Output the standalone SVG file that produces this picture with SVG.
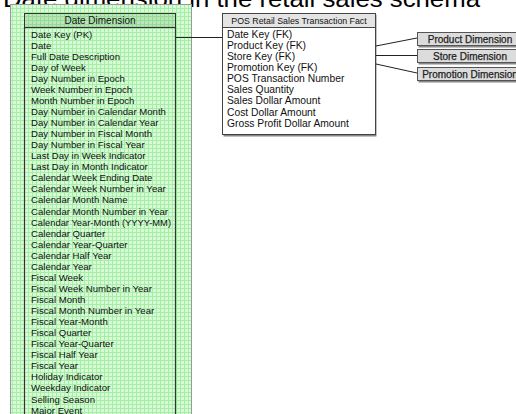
<svg xmlns="http://www.w3.org/2000/svg" width="516" height="414" viewBox="0 0 516 414">
<defs>
<pattern id="grid" x="0" y="0" width="4" height="4" patternUnits="userSpaceOnUse">
<rect width="4" height="4" fill="#d6fbd6"/>
<path d="M0 0.5H4M0.5 0V4" stroke="#a6eda6" stroke-width="1"/>
</pattern>
<pattern id="gridDark" x="0" y="0" width="4" height="4" patternUnits="userSpaceOnUse">
<rect width="4" height="4" fill="#b8e8b8"/>
<path d="M0 0.5H4M0.5 0V4" stroke="#98d898" stroke-width="1"/>
</pattern>
</defs>
<style>
.t{font-family:"Liberation Sans",Arial,sans-serif;font-size:9.6px;fill:#111}
.f{font-family:"Liberation Sans",Arial,sans-serif;font-size:10.3px;fill:#111}
.h{font-family:"Liberation Sans",Arial,sans-serif;font-size:8.8px;fill:#111;text-anchor:middle}
.d{font-family:"Liberation Sans",Arial,sans-serif;font-size:10px;fill:#222;text-anchor:middle;stroke:#222;stroke-width:0.25}
.box{fill:#fff;stroke:#444;stroke-width:1}
.dim{fill:#dcdcdc;stroke:#555;stroke-width:1}
.ln{stroke:#222;stroke-width:1;fill:none}
</style>
<rect width="516" height="414" fill="#fff"/>
<text x="3" y="7" font-family="Liberation Sans,Arial,sans-serif" font-size="24" fill="#000" textLength="477" lengthAdjust="spacingAndGlyphs">Date dimension in the retail sales schema</text>

<g id="date-dimension">
<rect x="10.5" y="4.5" width="181" height="420" fill="url(#grid)" stroke="#999" stroke-width="1"/>
<rect x="24.5" y="13.5" width="151" height="14" fill="url(#gridDark)" stroke="#333" stroke-width="1"/>
<rect x="24.5" y="27.5" width="151" height="400" fill="none" stroke="#333" stroke-width="1.2"/>
<text class="h" x="100" y="24" style="font-size:10px">Date Dimension</text>
<text class="t" x="31" y="37.5">Date Key (PK)</text>
<text class="t" x="31" y="48.6">Date</text>
<text class="t" x="31" y="59.6">Full Date Description</text>
<text class="t" x="31" y="70.7">Day of Week</text>
<text class="t" x="31" y="81.7">Day Number in Epoch</text>
<text class="t" x="31" y="92.8">Week Number in Epoch</text>
<text class="t" x="31" y="103.9">Month Number in Epoch</text>
<text class="t" x="31" y="114.9">Day Number in Calendar Month</text>
<text class="t" x="31" y="126">Day Number in Calendar Year</text>
<text class="t" x="31" y="137">Day Number in Fiscal Month</text>
<text class="t" x="31" y="148.1">Day Number in Fiscal Year</text>
<text class="t" x="31" y="159.2">Last Day in Week Indicator</text>
<text class="t" x="31" y="170.2">Last Day in Month Indicator</text>
<text class="t" x="31" y="181.3">Calendar Week Ending Date</text>
<text class="t" x="31" y="192.3">Calendar Week Number in Year</text>
<text class="t" x="31" y="203.4">Calendar Month Name</text>
<text class="t" x="31" y="214.5">Calendar Month Number in Year</text>
<text class="t" x="31" y="225.5" textLength="140" lengthAdjust="spacingAndGlyphs">Calendar Year-Month (YYYY-MM)</text>
<text class="t" x="31" y="236.6">Calendar Quarter</text>
<text class="t" x="31" y="247.6">Calendar Year-Quarter</text>
<text class="t" x="31" y="258.7">Calendar Half Year</text>
<text class="t" x="31" y="269.8">Calendar Year</text>
<text class="t" x="31" y="280.8">Fiscal Week</text>
<text class="t" x="31" y="291.9">Fiscal Week Number in Year</text>
<text class="t" x="31" y="302.9">Fiscal Month</text>
<text class="t" x="31" y="314">Fiscal Month  Number in Year</text>
<text class="t" x="31" y="325.1">Fiscal Year-Month</text>
<text class="t" x="31" y="336.1">Fiscal Quarter</text>
<text class="t" x="31" y="347.2">Fiscal Year-Quarter</text>
<text class="t" x="31" y="358.2">Fiscal Half Year</text>
<text class="t" x="31" y="369.3">Fiscal Year</text>
<text class="t" x="31" y="380.4">Holiday Indicator</text>
<text class="t" x="31" y="391.4">Weekday Indicator</text>
<text class="t" x="31" y="402.5">Selling Season</text>
<text class="t" x="31" y="413.5">Major Event</text>
</g>

<g id="pos-fact">
<rect x="223.5" y="14.5" width="153" height="122" fill="#888"/>
<rect x="222.5" y="13.5" width="153" height="14" fill="#e4e4e4" stroke="#444"/>
<rect x="222.5" y="27.5" width="153" height="107" class="box"/>
<text class="h" x="299" y="23.8">POS Retail Sales Transaction Fact</text>
<text class="f" x="227" y="37.8">Date Key (FK)</text>
<text class="f" x="227" y="48.9">Product Key (FK)</text>
<text class="f" x="227" y="60">Store Key (FK)</text>
<text class="f" x="227" y="71.1">Promotion Key (FK)</text>
<text class="f" x="227" y="82.2">POS Transaction Number</text>
<text class="f" x="227" y="93.3">Sales Quantity</text>
<text class="f" x="227" y="104.4">Sales Dollar Amount</text>
<text class="f" x="227" y="115.5">Cost Dollar Amount</text>
<text class="f" x="227" y="126.6">Gross Profit Dollar Amount</text>
</g>

<g id="product-dimension">
<rect x="418.5" y="33.5" width="110" height="14" fill="#888"/>
<rect x="417.5" y="32.5" width="110" height="13" class="dim"/>
<text class="d" x="470" y="42.5">Product Dimension</text>
</g>
<g id="store-dimension">
<rect x="418.5" y="50.5" width="110" height="14" fill="#888"/>
<rect x="417.5" y="49.5" width="110" height="13" class="dim"/>
<text class="d" x="470" y="59.5">Store Dimension</text>
</g>
<g id="promotion-dimension">
<rect x="418.5" y="68.5" width="110" height="14" fill="#888"/>
<rect x="417.5" y="67.5" width="110" height="13" class="dim"/>
<text class="d" x="470" y="77.5">Promotion Dimension</text>
</g>

<g id="connectors">
<path class="ln" d="M176 37.5H222"/>
<path class="ln" d="M376 46L417 38"/>
<path class="ln" d="M376 55.5H417"/>
<path class="ln" d="M376 64L417 73"/>
</g>
</svg>
